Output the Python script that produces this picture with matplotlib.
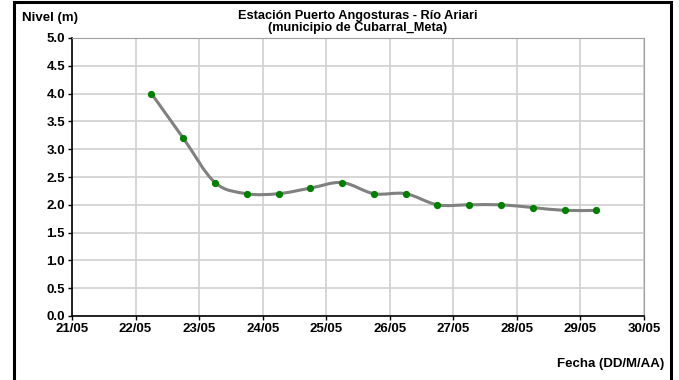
import matplotlib
matplotlib.use("Agg")
import matplotlib.pyplot as plt
from matplotlib.path import Path
from matplotlib.patches import PathPatch, Rectangle
import numpy as np

plt.rcParams['font.family'] = ['Liberation Sans', 'DejaVu Sans']

# day of May (fractional: 06:00 and 18:00 readings)
dias = [22.25, 22.75, 23.25, 23.75, 24.25, 24.75, 25.25, 25.75,
        26.25, 26.75, 27.25, 27.75, 28.25, 28.75, 29.25]
nivel = [4.0, 3.2, 2.4, 2.2, 2.2, 2.3, 2.4, 2.2,
         2.2, 2.0, 2.0, 2.0, 1.95, 1.9, 1.9]
dias_ticks = [21, 22, 23, 24, 25, 26, 27, 28, 29, 30]
etiquetas_x = ['%02d/05' % d for d in dias_ticks]
niveles_ticks = [0.0, 0.5, 1.0, 1.5, 2.0, 2.5, 3.0, 3.5, 4.0, 4.5, 5.0]

fig = plt.figure(figsize=(6.79, 3.80), dpi=100)
ax = fig.add_axes([72/679, 1-316/380, (644-72)/679, (316-38)/380])

# smoothed line like excel (bezier through the points)
x = np.array(dias)
y = np.array(nivel)
verts = [(x[0], y[0])]
codes = [Path.MOVETO]
n = len(x)
for i in range(n - 1):
    p0 = (x[i-1], y[i-1]) if i > 0 else (x[i], y[i])
    p3 = (x[i+2], y[i+2]) if i + 2 < n else (x[i+1], y[i+1])
    c1 = (x[i] + (x[i+1] - p0[0]) / 6, y[i] + (y[i+1] - p0[1]) / 6)
    c2 = (x[i+1] - (p3[0] - x[i]) / 6, y[i+1] - (p3[1] - y[i]) / 6)
    verts += [c1, c2, (x[i+1], y[i+1])]
    codes += [Path.CURVE4] * 3
ax.add_patch(PathPatch(Path(verts, codes), facecolor='none',
                       edgecolor='#808080', lw=2.2, zorder=3))
ax.plot(dias, nivel, ls='none', marker='o', ms=4.2, color='#008000',
        mec='#008000', zorder=4)

ax.set_xlim(21, 30)
ax.set_ylim(0, 5)
ax.set_xticks(dias_ticks)
ax.set_xticklabels(etiquetas_x)
ax.set_yticks(niveles_ticks)
ax.set_yticklabels(['%.1f' % v for v in niveles_ticks])
ax.grid(True, color='#d0d0d0', lw=1.2)
ax.set_axisbelow(True)
for lab in ax.get_xticklabels() + ax.get_yticklabels():
    lab.set_fontweight('bold')
    lab.set_fontsize(9.5)
ax.tick_params(direction='out', length=3, width=1, pad=2)
ax.spines['left'].set_color('black')
ax.spines['bottom'].set_color('black')
ax.spines['left'].set_linewidth(1.2)
ax.spines['bottom'].set_linewidth(1.2)
ax.spines['top'].set_color('#a0a0a0')
ax.spines['right'].set_color('#a0a0a0')

fig.text(358/679, 1-19.5/380, 'Estación Puerto Angosturas - Río Ariari',
         ha='center', va='baseline', fontsize=9.2, fontweight='bold')
fig.text(358/679, 1-31/380, '(municipio de Cubarral_Meta)',
         ha='center', va='baseline', fontsize=9.2, fontweight='bold')
fig.text(22/679, 1-21.5/380, 'Nivel (m)', ha='left', va='baseline',
         fontsize=9.5, fontweight='bold')
fig.text(664/679, 1-367/380, 'Fecha (DD/M/AA)', ha='right', va='baseline',
         fontsize=9.5, fontweight='bold')

# outer frame
fig.patches.append(Rectangle((14/679, -0.05), (671-14)/679, 1.05 - 2/380,
                             transform=fig.transFigure, fill=False,
                             edgecolor='black', lw=2.2))

fig.savefig('out.png', dpi=100)
